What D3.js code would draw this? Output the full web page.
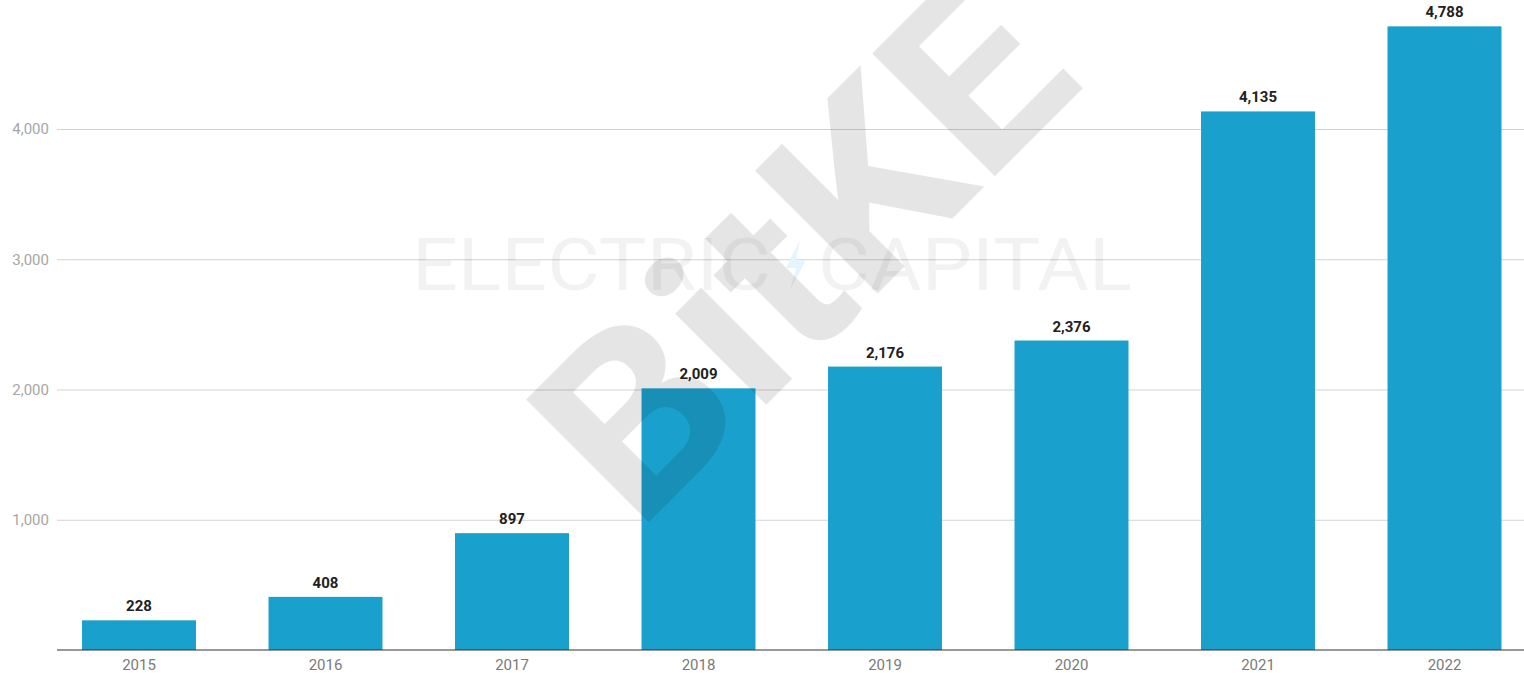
<!DOCTYPE html>
<html>
<head>
<meta charset="utf-8">
<script src="https://cdn.jsdelivr.net/npm/d3@7"></script>
<style>
  html, body { margin: 0; padding: 0; background: #fff; }
  svg { display: block; }
</style>
</head>
<body>
<svg id="chart" width="1524" height="673"></svg>
<script>
const years = ["2015", "2016", "2017", "2018", "2019", "2020", "2021", "2022"];
const developers = [228, 408, 897, 2009, 2176, 2376, 4135, 4788];
const yTicks = [1000, 2000, 3000, 4000];
const watermarkMain = "BitKE";
const watermarkLeft = "ELECTRIC";
const watermarkRight = "CAPITAL";

const W = 1524, H = 673;
const svg = d3.select("#chart");

const x = d3.scaleBand()
  .domain(years)
  .range([45.75, 1537.75])
  .paddingInner(0.389)
  .paddingOuter(0.1945);

const y = d3.scaleLinear()
  .domain([0, 4000])
  .range([650, 129]);

const fmt = d3.format(",");

// gridlines + y labels
const yAxis = d3.axisLeft(y)
  .tickValues(yTicks)
  .tickFormat(fmt)
  .tickSize(-(W - 57))
  .tickPadding(8);

const gy = svg.append("g")
  .attr("transform", "translate(57,0)")
  .call(yAxis);
gy.select(".domain").remove();
gy.selectAll(".tick line").attr("stroke", "#d2d2d2").attr("stroke-width", 1);
gy.selectAll(".tick text")
  .attr("x", -8)
  .attr("fill", "#a6a6a6")
  .style("font-family", "Roboto, sans-serif")
  .style("font-size", "15px");

// bars
svg.append("g")
  .selectAll("rect")
  .data(years)
  .join("rect")
  .attr("x", d => x(d))
  .attr("width", x.bandwidth())
  .attr("y", (d, i) => y(developers[i]))
  .attr("height", (d, i) => y(0) - y(developers[i]))
  .attr("fill", "#1aa0cc");

// value labels
svg.append("g")
  .selectAll("text")
  .data(years)
  .join("text")
  .attr("x", d => x(d) + x.bandwidth() / 2)
  .attr("y", (d, i) => y(developers[i]) - 9)
  .attr("text-anchor", "middle")
  .attr("fill", "#212121")
  .style("font-family", "Roboto, sans-serif")
  .style("font-weight", "700")
  .style("font-size", "15px")
  .text((d, i) => fmt(developers[i]));

// x axis
const xAxis = d3.axisBottom(x).tickSize(0).tickPadding(9);
const gx = svg.append("g")
  .attr("transform", `translate(0,${y(0)})`)
  .call(xAxis);
gx.select(".domain").remove();
gx.selectAll(".tick text")
  .attr("fill", "#7a7a7a")
  .style("font-family", "Roboto, sans-serif")
  .style("font-size", "15px");
svg.append("line")
  .attr("x1", 57).attr("x2", W)
  .attr("y1", y(0)).attr("y2", y(0))
  .attr("stroke", "#333").attr("stroke-width", 1.2);

// watermarks (overlay)
const wm = svg.append("g").attr("pointer-events", "none");
wm.append("text")
  .attr("x", 412).attr("y", 290)
  .attr("textLength", 359).attr("lengthAdjust", "spacingAndGlyphs")
  .attr("fill", "#000").attr("fill-opacity", 0.05)
  .style("font-family", "Roboto, sans-serif")
  .style("font-weight", "400")
  .style("font-size", "73px")
  .text(watermarkLeft);
wm.append("text")
  .attr("x", 818).attr("y", 290)
  .attr("textLength", 314).attr("lengthAdjust", "spacingAndGlyphs")
  .attr("fill", "#000").attr("fill-opacity", 0.05)
  .style("font-family", "Roboto, sans-serif")
  .style("font-weight", "400")
  .style("font-size", "73px")
  .text(watermarkRight);
wm.append("path")
  .attr("d", "M800,240 L786,268 L796,268 L790,290 L806,260 L796,260 Z")
  .attr("fill", "#e6f4fb");

wm.append("text")
  .attr("transform", "translate(862,309) rotate(-45)")
  .attr("text-anchor", "middle")
  .attr("textLength", 636).attr("lengthAdjust", "spacingAndGlyphs")
  .attr("fill", "#000").attr("fill-opacity", 0.1)
  .style("font-family", "Roboto, sans-serif")
  .style("font-weight", "700")
  .style("font-size", "244px")
  .text(watermarkMain);
</script>
</body>
</html>
